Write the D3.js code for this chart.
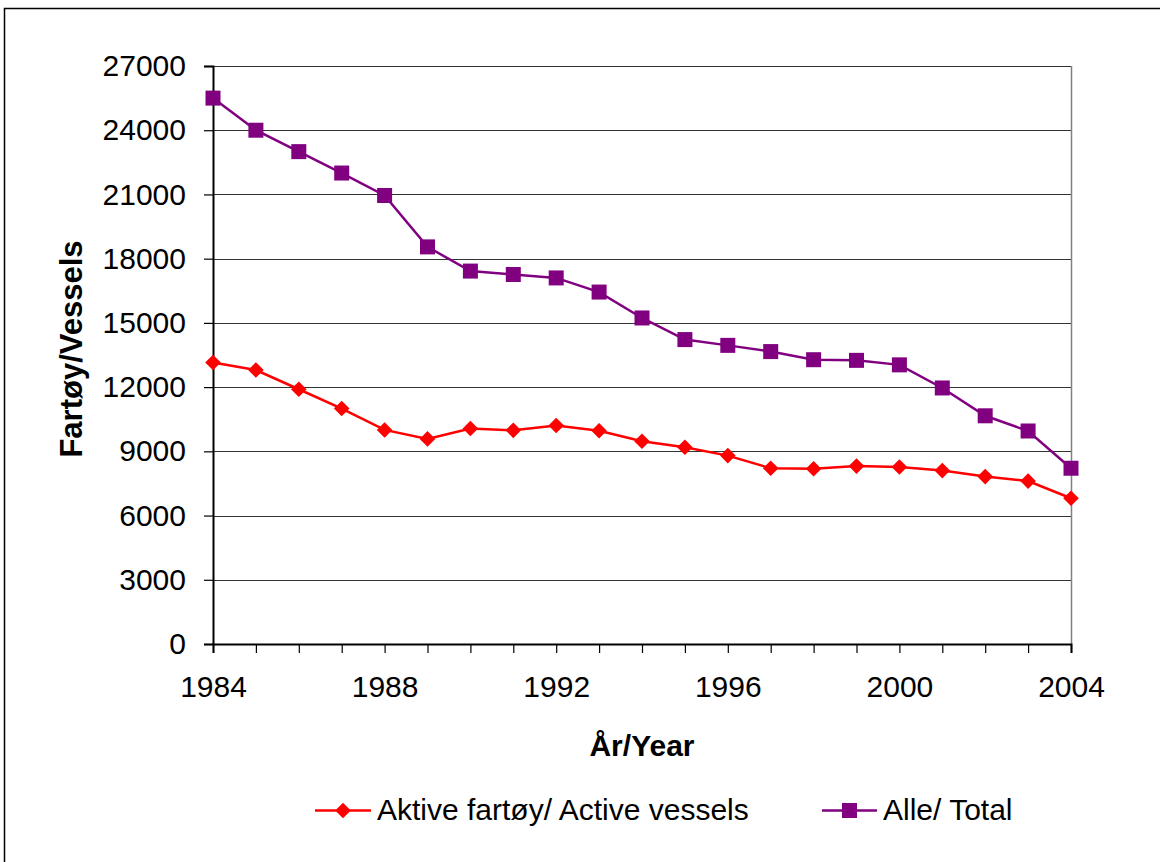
<!DOCTYPE html>
<html>
<head>
<meta charset="utf-8">
<script src="https://cdn.jsdelivr.net/npm/d3@7"></script>
<style>
  body { margin: 0; background: #fff; }
  svg { display: block; font-family: "Liberation Sans", Arial, sans-serif; }
</style>
</head>
<body>
<svg id="chart" width="1160" height="862"></svg>
<script>
const years = d3.range(1984, 2005);
const active = [13150, 12800, 11900, 11000, 10000, 9580, 10070, 9980, 10210, 9960,
  9470, 9190, 8800, 8210, 8190, 8310, 8270, 8100, 7820, 7610, 6810];
const total = [25500, 24000, 23000, 22000, 20950, 18550, 17420, 17260, 17100, 16440,
  15230, 14220, 13950, 13660, 13280, 13250, 13040, 11960, 10660, 9950, 8210];
const yTicks = d3.range(0, 27001, 3000);
const xLabels = [1984, 1988, 1992, 1996, 2000, 2004];
const seriesNames = ["Aktive fartøy/ Active vessels", "Alle/ Total"];
const colors = ["#ff0000", "#800080"];

const svg = d3.select("#chart");
const plotL = 213, plotR = 1071, plotT = 66, plotB = 644;
const fontSize = 30;

// outer frame
svg.append("rect")
  .attr("x", 4.5).attr("y", 8.5)
  .attr("width", 1170).attr("height", 870)
  .attr("fill", "none").attr("stroke", "#000").attr("stroke-width", 1.5);

const x = d3.scaleLinear().domain([1984, 2004]).range([plotL, plotR]);
const y = d3.scaleLinear().domain([0, 27000]).range([plotB, plotT]);

/* ------- GRID -------*/
svg.append("g")
  .selectAll("line")
  .data(yTicks.filter(d => d > 0))
  .enter()
  .append("line")
  .attr("x1", plotL).attr("x2", plotR)
  .attr("y1", d => Math.round(y(d)) + 0.5)
  .attr("y2", d => Math.round(y(d)) + 0.5)
  .attr("stroke", "#333").attr("stroke-width", 1.2);

svg.append("line")
  .attr("x1", plotR + 0.5).attr("x2", plotR + 0.5)
  .attr("y1", plotT).attr("y2", plotB)
  .attr("stroke", "#808080").attr("stroke-width", 1.5);

/* ------- AXES -------*/
const yAxis = svg.append("g")
  .attr("transform", `translate(${plotL},0)`)
  .call(d3.axisLeft(y).tickValues(yTicks).tickSize(9).tickPadding(18).tickFormat(d3.format("d")));
yAxis.select(".domain").attr("stroke", "#000").attr("stroke-width", 2);
yAxis.selectAll(".tick line").attr("stroke", "#000").attr("stroke-width", 1.2);
yAxis.selectAll("text").attr("font-size", fontSize).attr("fill", "#000")
  .attr("font-family", "Liberation Sans, Arial, sans-serif");

const xAxis = svg.append("g")
  .attr("transform", `translate(0,${plotB})`)
  .call(d3.axisBottom(x).tickValues(years).tickSize(9).tickPadding(23)
    .tickFormat(d => xLabels.includes(d) ? d : ""));
xAxis.select(".domain").attr("stroke", "#000").attr("stroke-width", 2);
xAxis.selectAll(".tick line").attr("stroke", "#000").attr("stroke-width", 1.2);
xAxis.selectAll("text").attr("font-size", fontSize).attr("fill", "#000")
  .attr("font-family", "Liberation Sans, Arial, sans-serif");

/* ------- TITLES -------*/
svg.append("text")
  .attr("transform", "translate(82,349) rotate(-90)")
  .attr("text-anchor", "middle")
  .attr("font-size", 31).attr("font-weight", "bold")
  .text("Fartøy/Vessels");

svg.append("text")
  .attr("x", 642).attr("y", 756)
  .attr("text-anchor", "middle")
  .attr("font-size", 30).attr("font-weight", "bold")
  .text("År/Year");

/* ------- SERIES -------*/
const diamond = d3.symbol().type(d3.symbolDiamond2).size(155);
const square = d3.symbol().type(d3.symbolSquare).size(225);
const allSeries = [active, total];
const shapes = [diamond, square];

allSeries.forEach((vals, i) => {
  const pts = years.map((yr, j) => ({ yr: yr, v: vals[j] }));
  svg.append("path")
    .datum(pts)
    .attr("fill", "none")
    .attr("stroke", colors[i])
    .attr("stroke-width", 2.5)
    .attr("d", d3.line().x(d => x(d.yr)).y(d => y(d.v)));
  svg.append("g")
    .selectAll("path")
    .data(pts)
    .enter()
    .append("path")
    .attr("transform", d => `translate(${x(d.yr)},${y(d.v)})`)
    .attr("d", shapes[i])
    .attr("fill", colors[i]);
});

/* ------- LEGEND -------*/
const legendPos = [{ x0: 315, x1: 371, tx: 377 }, { x0: 822, x1: 877, tx: 883 }];
const legendY = 810.5;
seriesNames.forEach((name, i) => {
  const p = legendPos[i];
  svg.append("line")
    .attr("x1", p.x0).attr("x2", p.x1)
    .attr("y1", legendY).attr("y2", legendY)
    .attr("stroke", colors[i]).attr("stroke-width", 2.5);
  svg.append("path")
    .attr("transform", `translate(${(p.x0 + p.x1) / 2},${legendY})`)
    .attr("d", shapes[i])
    .attr("fill", colors[i]);
  svg.append("text")
    .attr("x", p.tx).attr("y", 820)
    .attr("font-size", fontSize)
    .text(name);
});
</script>
</body>
</html>
